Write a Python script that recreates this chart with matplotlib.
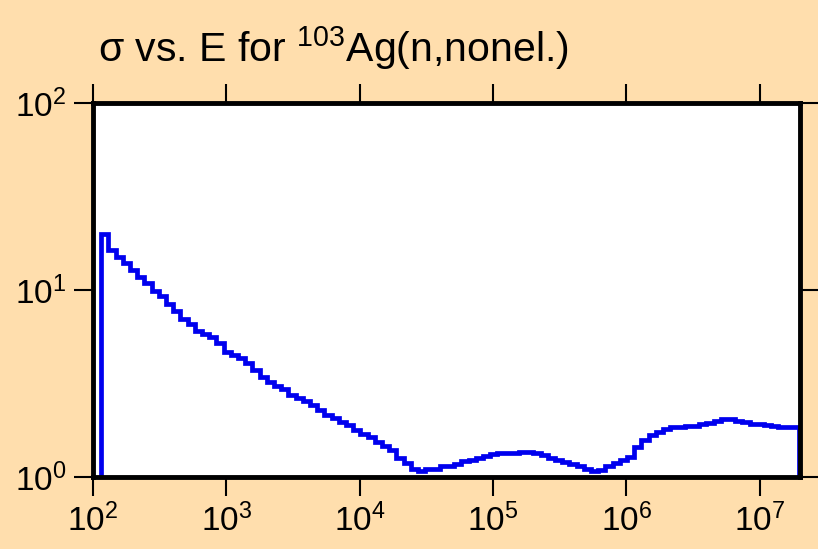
'''
   sigma vs. E para 103Ag(n,nonel.)
'''
import matplotlib
matplotlib.use("Agg")
import matplotlib.pyplot as plt
from matplotlib.ticker import LogLocator, NullLocator

# limites das bins de energia (eV)
energia = [115.0, 130.2, 147.5, 167.1, 189.2, 214.2, 242.7, 274.8, 311.2, 352.4,
           399.0, 451.9, 511.7, 579.5, 656.2, 743.2, 841.6, 953.0, 1079, 1222,
           1384, 1568, 1775, 2011, 2277, 2579, 2920, 3307, 3745, 4241,
           4802, 5438, 6159, 6974, 7898, 8944, 10130, 11470, 12990, 14710,
           16660, 18860, 21360, 24190, 27400, 31030, 35140, 39790, 45060, 51040,
           57800, 65450, 74120, 83950, 95060, 107700, 121900, 138100, 156400, 177100,
           200500, 227100, 257200, 291300, 329800, 373500, 423000, 479000, 542500, 614300,
           695700, 787800, 892200, 1.010e6, 1.144e6, 1.296e6, 1.467e6, 1.662e6, 1.882e6, 2.131e6,
           2.413e6, 2.733e6, 3.095e6, 3.505e6, 3.969e6, 4.495e6, 5.091e6, 5.765e6, 6.529e6, 7.393e6,
           8.373e6, 9.482e6, 1.074e7, 1.216e7, 1.377e7, 1.560e7, 1.766e7, 1.98e7]

# secao de choque em cada bin (b)
sigma = [19.86, 16.31, 15.07, 13.89, 12.79, 11.69, 10.86, 9.88, 9.29, 8.38,
         7.72, 6.97, 6.56, 6.04, 5.82, 5.64, 5.23, 4.68, 4.49, 4.33,
         4.07, 3.73, 3.43, 3.23, 3.07, 2.95, 2.75, 2.65, 2.55, 2.43,
         2.28, 2.15, 2.06, 1.98, 1.90, 1.78, 1.70, 1.63, 1.54, 1.47,
         1.39, 1.27, 1.19, 1.10, 1.08, 1.10, 1.11, 1.14, 1.145, 1.18,
         1.22, 1.24, 1.27, 1.295, 1.32, 1.336, 1.339, 1.349, 1.356, 1.356,
         1.339, 1.31, 1.27, 1.24, 1.21, 1.17, 1.14, 1.10, 1.08, 1.09,
         1.14, 1.195, 1.24, 1.28, 1.45, 1.58, 1.68, 1.75, 1.80, 1.845,
         1.86, 1.87, 1.88, 1.91, 1.95, 1.99, 2.03, 2.035, 2.005, 1.97,
         1.93, 1.91, 1.89, 1.87, 1.86, 1.86, 1.845]

# parametros
FUNDO = "#ffdead"
AZUL = "#0000ee"
XLIM = (1e2, 2e7)
YLIM = (1e0, 1e2)

#------------------------------------------------------
def main():
    plt.rcParams['font.family'] = ['Liberation Sans', 'DejaVu Sans']

    fig = plt.figure(figsize=(8.18, 5.49), dpi=100, facecolor=FUNDO)
    ax = fig.add_axes([93/818, 1 - 477/549, 707/818, 374/549])
    ax.set_facecolor("white")

    # curva em degraus
    st = ax.stairs(sigma, energia, baseline=1.0, color=AZUL, linewidth=3.4)
    st.set_joinstyle("miter")

    ax.set_xscale("log")
    ax.set_yscale("log")
    ax.set_xlim(*XLIM)
    ax.set_ylim(*YLIM)

    ax.xaxis.set_major_locator(LogLocator(base=10, numticks=10))
    ax.yaxis.set_major_locator(LogLocator(base=10, numticks=10))
    ax.xaxis.set_minor_locator(NullLocator())
    ax.yaxis.set_minor_locator(NullLocator())

    for lado in ax.spines.values():
        lado.set_linewidth(3.5)
    ax.tick_params(which="major", direction="out", length=14, width=1.5,
                   top=True, right=True, labelsize=24, pad=5)

    # titulo
    fig.text(98/818, 1 - 62/549, r"σ vs. E for $^{\mathdefault{103}}$Ag(n,nonel.)",
             fontsize=29.5, ha="left", va="baseline")

    fig.savefig("out.png", dpi=100, facecolor=FUNDO)

#--------------------------------------------------------------
if __name__ == "__main__":
    main()
